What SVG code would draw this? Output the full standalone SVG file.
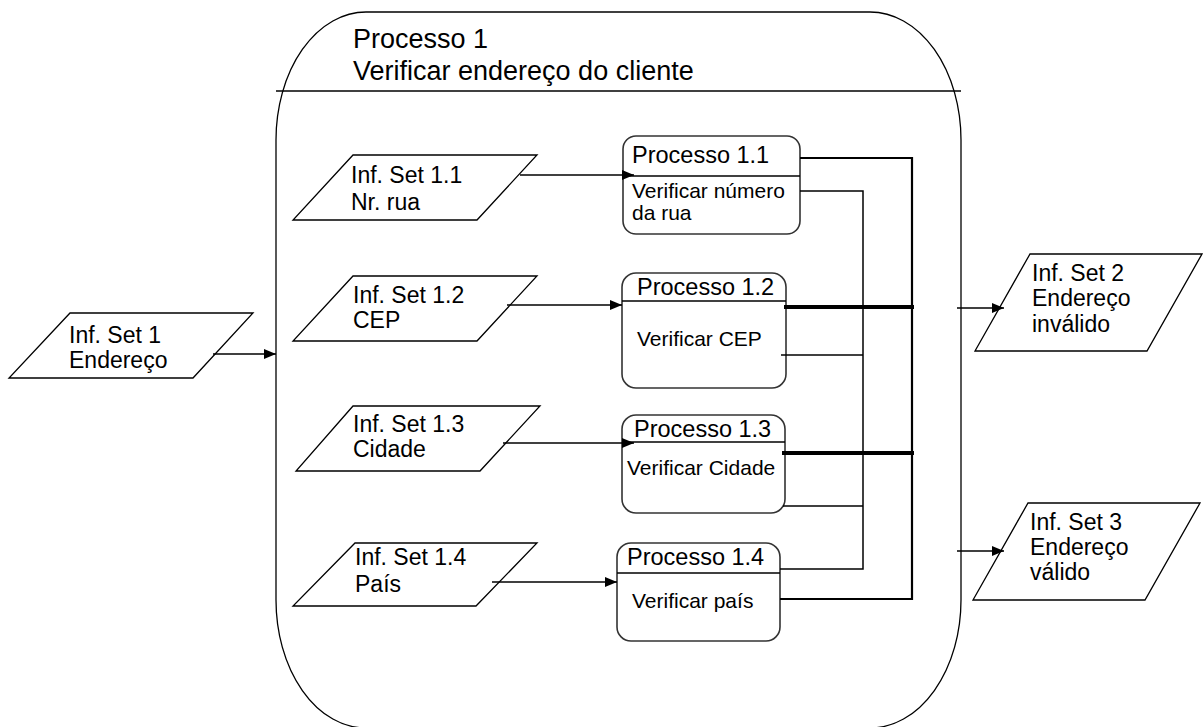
<svg xmlns="http://www.w3.org/2000/svg" width="1203" height="727" viewBox="0 0 1203 727">
  <style>
    .shape { fill: #fff; stroke: #000; stroke-width: 1.3; }
    .box { fill: #fff; stroke: #333; stroke-width: 1.6; }
    .sep { stroke: #000; stroke-width: 1.6; }
    .lbl { font-family: "Liberation Sans", Arial, sans-serif; font-size: 23px; fill: #000; }
    .ttl { font-family: "Liberation Sans", Arial, sans-serif; font-size: 23.5px; fill: #000; }
    .dsc { font-family: "Liberation Sans", Arial, sans-serif; font-size: 21px; fill: #000; }
    .big { font-family: "Liberation Sans", Arial, sans-serif; font-size: 27px; fill: #000; }
    .flow { fill: none; stroke: #000; stroke-width: 1.5; }
    .thin { fill: none; stroke: #000; stroke-width: 1.5; }
    .bus { fill: none; stroke: #000; stroke-width: 2.2; }
    .thick { fill: none; stroke: #000; stroke-width: 4; }
  </style>
  <defs>
    <marker id="arrow" viewBox="0 0 12 10" refX="12" refY="5" markerWidth="12" markerHeight="10" markerUnits="userSpaceOnUse" orient="auto">
      <path d="M0,0 L12,5 L0,10 z" fill="#000"/>
    </marker>
  </defs>

  <!-- Process 1 container -->
  <g id="processo-1">
    <path class="shape" d="M366,12 L870,12 A91,128 0 0 1 961,140 L961,600 A91,128 0 0 1 870,728 L366,728 A90,128 0 0 1 276,600 L276,140 A90,128 0 0 1 366,12 Z"/>
    <line class="sep" x1="276" y1="91" x2="961" y2="91"/>
    <text class="big" x="353" y="48">Processo 1</text>
    <text class="big" x="353" y="80">Verificar endereço do cliente</text>
  </g>

  <!-- Input data sets -->
  <g id="inf-set-1">
    <polygon class="shape" points="70,313 253,313 193,378 9,378"/>
    <text class="lbl" x="69" y="343">Inf. Set 1</text>
    <text class="lbl" x="69" y="368">Endereço</text>
  </g>
  <g id="inf-set-1-1">
    <polygon class="shape" points="353,155 537,155 477,220 293,220"/>
    <text class="lbl" x="351" y="183">Inf. Set 1.1</text>
    <text class="lbl" x="351" y="210">Nr. rua</text>
  </g>
  <g id="inf-set-1-2">
    <polygon class="shape" points="353,276 537,276 477,341 293,341"/>
    <text class="lbl" x="353" y="303">Inf. Set 1.2</text>
    <text class="lbl" x="353" y="328">CEP</text>
  </g>
  <g id="inf-set-1-3">
    <polygon class="shape" points="353,406 540,406 480,471 296,471"/>
    <text class="lbl" x="353" y="432">Inf. Set 1.3</text>
    <text class="lbl" x="353" y="457">Cidade</text>
  </g>
  <g id="inf-set-1-4">
    <polygon class="shape" points="355,543 537,543 476,606 293,606"/>
    <text class="lbl" x="355" y="565">Inf. Set 1.4</text>
    <text class="lbl" x="355" y="592">País</text>
  </g>

  <!-- Output data sets -->
  <g id="inf-set-2">
    <polygon class="shape" points="1030,254 1202,254 1147,351 975,351"/>
    <text class="lbl" x="1032" y="281">Inf. Set 2</text>
    <text class="lbl" x="1032" y="306">Endereço</text>
    <text class="lbl" x="1032" y="332">inválido</text>
  </g>
  <g id="inf-set-3">
    <polygon class="shape" points="1028,503 1200,503 1145,600 973,600"/>
    <text class="lbl" x="1030" y="530">Inf. Set 3</text>
    <text class="lbl" x="1030" y="555">Endereço</text>
    <text class="lbl" x="1030" y="580">válido</text>
  </g>

  <!-- Sub-processes -->
  <g id="processo-1-1">
    <rect class="box" x="623" y="136" width="177" height="98" rx="13"/>
    <line class="sep" x1="623" y1="176" x2="800" y2="176"/>
    <text class="ttl" x="632" y="163">Processo 1.1</text>
    <text class="dsc" x="632" y="198">Verificar número</text>
    <text class="dsc" x="632" y="220">da rua</text>
  </g>
  <g id="processo-1-2">
    <rect class="box" x="622" y="273" width="164" height="115" rx="14"/>
    <line class="sep" x1="622" y1="301" x2="786" y2="301"/>
    <text class="ttl" x="637" y="295">Processo 1.2</text>
    <text class="dsc" x="637" y="346">Verificar CEP</text>
  </g>
  <g id="processo-1-3">
    <rect class="box" x="622" y="415" width="163" height="98" rx="14"/>
    <line class="sep" x1="622" y1="442" x2="785" y2="442"/>
    <text class="ttl" x="634" y="437">Processo 1.3</text>
    <text class="dsc" x="627" y="475">Verificar Cidade</text>
  </g>
  <g id="processo-1-4">
    <rect class="box" x="617" y="543" width="163" height="98" rx="14"/>
    <line class="sep" x1="617" y1="573" x2="780" y2="573"/>
    <text class="ttl" x="627" y="565">Processo 1.4</text>
    <text class="dsc" x="632" y="608">Verificar país</text>
  </g>

  <!-- Connectors -->
  <g id="connectors">
    <!-- inputs -->
    <line class="flow" x1="213" y1="354" x2="276" y2="354" marker-end="url(#arrow)"/>
    <line class="flow" x1="520" y1="175" x2="634" y2="175" marker-end="url(#arrow)"/>
    <line class="flow" x1="507" y1="305" x2="622" y2="305" marker-end="url(#arrow)"/>
    <line class="flow" x1="503" y1="443" x2="634" y2="443" marker-end="url(#arrow)"/>
    <line class="flow" x1="492" y1="582" x2="617" y2="582" marker-end="url(#arrow)"/>

    <!-- collecting buses -->
    <polyline class="thin" points="800,191 863,191 863,569 780,569"/>
    <line class="thin" x1="781" y1="355" x2="863" y2="355"/>
    <line class="thin" x1="783" y1="506" x2="863" y2="506"/>
    <polyline class="bus" points="800,158 912,158 912,599 780,599"/>
    <line class="thick" x1="784" y1="307" x2="914" y2="307"/>
    <line class="thick" x1="782" y1="453" x2="914" y2="453"/>

    <!-- outputs -->
    <line class="flow" x1="957" y1="308" x2="1004" y2="308" marker-end="url(#arrow)"/>
    <line class="flow" x1="957" y1="551" x2="1004" y2="551" marker-end="url(#arrow)"/>
  </g>
</svg>
